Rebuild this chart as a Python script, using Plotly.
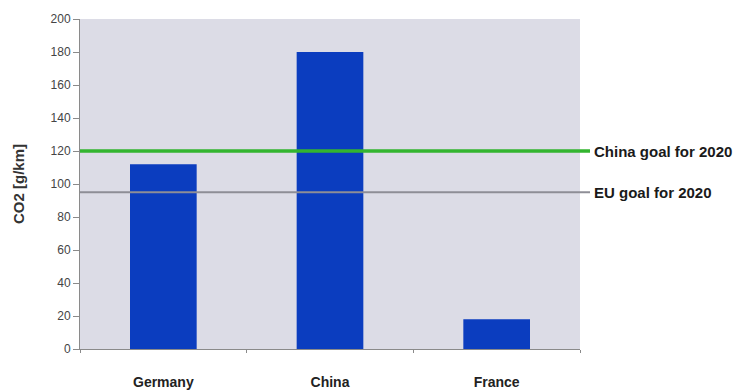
import plotly.graph_objects as go

countries = ["Germany", "China", "France"]
co2_values = [112, 180, 18]
goal_names = ["China goal for 2020", "EU goal for 2020"]
goal_values = [120, 95]
goal_colors = ["#33b52f", "#8e8e96"]
goal_widths = [3.5, 2]
y_ticks = [0, 20, 40, 60, 80, 100, 120, 140, 160, 180, 200]

fig = go.Figure()
fig.add_trace(go.Bar(x=countries, y=co2_values, marker_color="#0b3dbf",
                     marker_line_width=0, width=0.4, showlegend=False))

for name, val, col, w in zip(goal_names, goal_values, goal_colors, goal_widths):
    fig.add_shape(type="line", xref="paper", yref="y", x0=0, x1=1.02, y0=val, y1=val,
                  line=dict(color=col, width=w))
    fig.add_annotation(xref="paper", yref="y", x=1.024, y=val, text="<b>" + name + "</b>",
                       showarrow=False, xanchor="left", yanchor="middle",
                       font=dict(family="Liberation Sans, Arial", size=15, color="#1a1a1a"))

fig.update_layout(
    width=742, height=392,
    margin=dict(l=80, r=162, t=19, b=43, autoexpand=False),
    plot_bgcolor="#dcdce6", paper_bgcolor="white",
    font=dict(family="Liberation Sans, Arial", color="#333"),
)
fig.update_yaxes(range=[0, 200], tickvals=y_ticks, showgrid=False, zeroline=False,
                 showline=True, linecolor="#8a8a8a", linewidth=1, ticks="outside",
                 ticklen=6, tickcolor="#8a8a8a", automargin=False,
                 tickfont=dict(size=12, color="#444"),
                 title=dict(text="<b>CO2 [g/km]</b>", font=dict(size=15, color="#333"), standoff=22))
fig.update_xaxes(showgrid=False, showline=True, linecolor="#8a8a8a", linewidth=1,
                 ticks="outside", tickson="boundaries", ticklen=3, tickcolor="#8a8a8a",
                 ticklabelstandoff=20, automargin=False,
                 tickfont=dict(size=14, color="#222"),
                 tickvals=countries, ticktext=["<b>" + c + "</b>" for c in countries])

fig.write_html("out.html")
